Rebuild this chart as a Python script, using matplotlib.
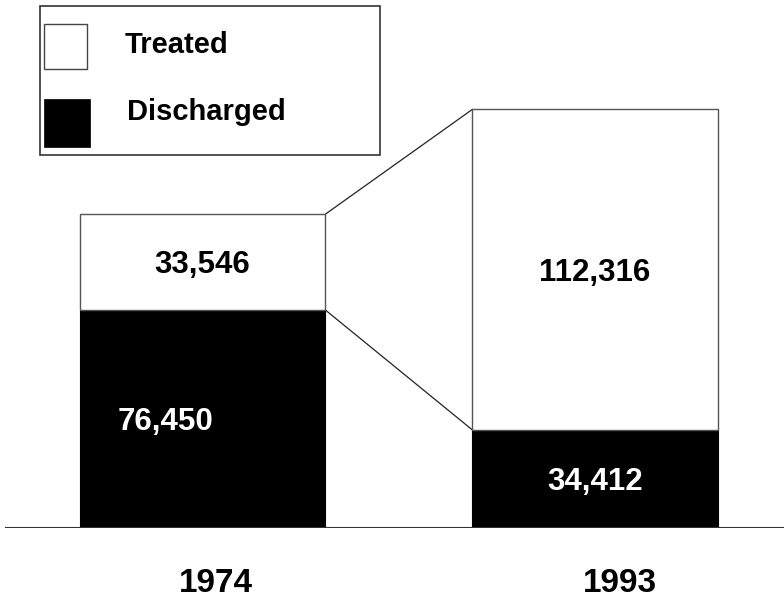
import matplotlib.pyplot as plt
from matplotlib.patches import Rectangle

# data
years = ['1974', '1993']
discharged = [76450, 34412]
treated = [33546, 112316]
series = ['Treated', 'Discharged']

plt.rcParams['font.family'] = ['Liberation Sans', 'DejaVu Sans']

W, H = 784, 610
fig = plt.figure(figsize=(W / 100, H / 100), dpi=100)

# main axes: baseline sits 82 px above the bottom edge
ax = fig.add_axes([0, 82 / H, 1, 1 - 82 / H])
ax.set_xlim(-0.516, 1.4815)
ax.set_ylim(0, 185100)
ax.axis('off')

x = [0, 1]
width = 0.6255
edge = '#555555'

ax.bar(x, discharged, width, color='black', edgecolor='black', linewidth=0.8, zorder=2)
ax.bar(x, treated, width, bottom=discharged, color='white', edgecolor=edge,
       linewidth=1.0, zorder=2)

# baseline
ax.axhline(0, xmin=6 / W, xmax=1, color='#333333', linewidth=1.5, zorder=3)

# connector lines between the two stacks
x_r = x[0] + width / 2
x_l = x[1] - width / 2
ax.plot([x_r, x_l], [discharged[0] + treated[0], discharged[1] + treated[1]],
        color='#222222', linewidth=0.9, zorder=1)
ax.plot([x_r, x_l], [discharged[0], discharged[1]],
        color='#222222', linewidth=0.9, zorder=1)

fs_val = 22.5
# value labels (baseline placed half a cap-height below the segment middle)
lab_dx = [-26.3, 0]
for i in range(2):
    ax.annotate(f'{treated[i]:,}', (x[i], discharged[i] + treated[i] / 2),
                xytext=(0, -8), textcoords='offset points', ha='center', va='baseline',
                fontsize=fs_val, fontweight='bold', color='black', zorder=4)
    ax.annotate(f'{discharged[i]:,}', (x[i], discharged[i] / 2),
                xytext=(lab_dx[i], -8), textcoords='offset points', ha='center',
                va='baseline', fontsize=fs_val, fontweight='bold', color='white', zorder=4)

# year labels under the baseline
year_dx = [9.7, 18]
for i in range(2):
    ax.annotate(years[i], (x[i], 0), xytext=(year_dx[i], -46), textcoords='offset points',
                ha='center', va='baseline', fontsize=24, fontweight='bold',
                annotation_clip=False)

# legend drawn in pixel coordinates on an overlay axes
lay = fig.add_axes([0, 0, 1, 1])
lay.set_xlim(0, W)
lay.set_ylim(H, 0)
lay.axis('off')
lay.add_patch(Rectangle((40, 6), 340, 149, facecolor='white', edgecolor='#333333',
                        linewidth=1.2))
lay.add_patch(Rectangle((44, 24), 43, 45, facecolor='white', edgecolor='#444444',
                        linewidth=1.0))
lay.add_patch(Rectangle((44, 99), 46, 48, facecolor='black', edgecolor='black',
                        linewidth=0.5))
lay.text(125, 53, series[0], fontsize=21, fontweight='bold', ha='left', va='baseline')
lay.text(127, 120, series[1], fontsize=21, fontweight='bold', ha='left', va='baseline')

fig.savefig('out.png', dpi=100)
